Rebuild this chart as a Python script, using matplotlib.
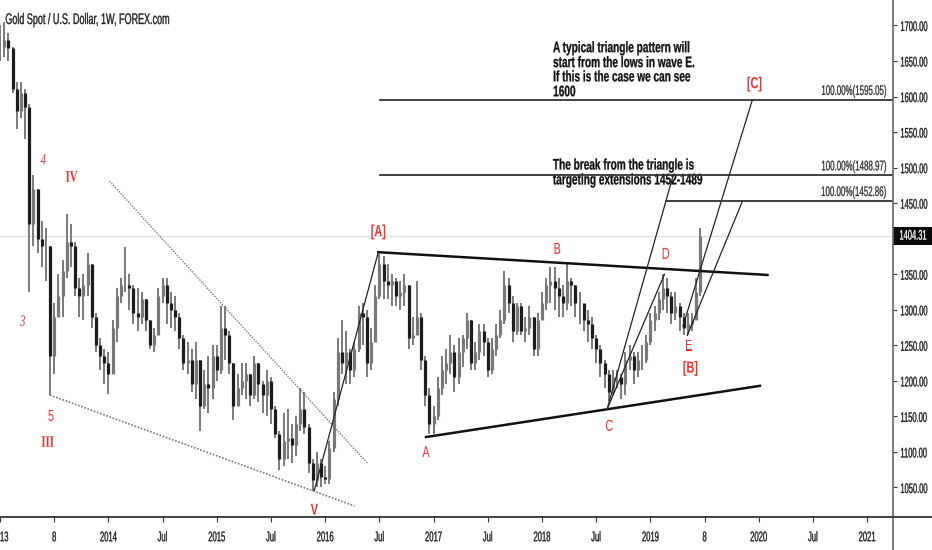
import numpy as np
import matplotlib
matplotlib.use('Agg')
import matplotlib.pyplot as plt
from matplotlib.lines import Line2D
from matplotlib.patches import Rectangle
from matplotlib.patheffects import AbstractPathEffect
from matplotlib.transforms import Affine2D, blended_transform_factory

WIDTH, HEIGHT = 932, 550
SANS = ['Liberation Sans', 'DejaVu Sans']
SERIF = ['Liberation Serif', 'DejaVu Serif']

# two-week bars
closes = [1670, 1680, 1668, 1610, 1580, 1605, 1585, 1420, 1470, 1400, 1390, 1390, 1235,
          1290, 1320, 1355, 1395, 1390, 1330, 1320, 1335, 1365, 1290, 1250, 1235, 1225,
          1210, 1275, 1320, 1335, 1335, 1330, 1295, 1290, 1315, 1285, 1250, 1265, 1320,
          1335, 1310, 1300, 1290, 1260, 1225, 1230, 1195, 1230, 1165, 1195, 1190, 1235,
          1215, 1275, 1265, 1225, 1165, 1190, 1200, 1210, 1180, 1225, 1195, 1180, 1200,
          1160, 1125, 1090, 1115, 1120, 1110, 1140, 1160, 1135, 1085, 1060, 1085, 1065,
          1062, 1105, 1175, 1240, 1225, 1240, 1215, 1245, 1295, 1290, 1225, 1255, 1320,
          1365, 1340, 1335, 1340, 1320, 1325, 1335, 1260, 1265, 1290, 1230, 1180, 1140,
          1150, 1190, 1215, 1225, 1240, 1205, 1240, 1260, 1285, 1225, 1240, 1270, 1255,
          1215, 1245, 1265, 1285, 1335, 1310, 1270, 1305, 1270, 1275, 1290, 1245, 1285,
          1310, 1335, 1340, 1330, 1320, 1310, 1340, 1335, 1310, 1310, 1285, 1280, 1260,
          1245, 1225, 1210, 1185, 1205, 1205, 1195, 1230, 1235, 1215, 1230, 1230, 1255,
          1285, 1295, 1315, 1330, 1320, 1295, 1305, 1290, 1275, 1280, 1285, 1325, 1404.31]
highs = [1700, 1705, 1690, 1670, 1620, 1620, 1610, 1590, 1490, 1470, 1425, 1415, 1390,
         1310, 1350, 1370, 1435, 1420, 1395, 1345, 1350, 1380, 1365, 1295, 1260, 1245,
         1240, 1285, 1330, 1345, 1388, 1350, 1335, 1330, 1325, 1315, 1285, 1275, 1330,
         1345, 1345, 1325, 1320, 1295, 1265, 1255, 1245, 1255, 1230, 1215, 1235, 1250,
         1250, 1305, 1305, 1270, 1225, 1210, 1225, 1225, 1210, 1235, 1225, 1200, 1215,
         1205, 1165, 1130, 1155, 1160, 1140, 1150, 1190, 1185, 1140, 1090, 1100, 1090,
         1080, 1115, 1185, 1260, 1285, 1270, 1245, 1255, 1305, 1310, 1300, 1275, 1335,
         1378, 1375, 1365, 1350, 1345, 1340, 1350, 1335, 1290, 1340, 1295, 1235, 1190,
         1165, 1205, 1235, 1245, 1265, 1250, 1260, 1265, 1295, 1285, 1255, 1280, 1280,
         1260, 1260, 1280, 1300, 1355, 1345, 1320, 1310, 1310, 1290, 1305, 1290, 1295,
         1325, 1345, 1360, 1360, 1345, 1335, 1365, 1345, 1335, 1325, 1305, 1300, 1290,
         1265, 1250, 1230, 1215, 1215, 1215, 1210, 1240, 1250, 1240, 1240, 1250, 1265,
         1295, 1305, 1325, 1350, 1345, 1325, 1325, 1310, 1295, 1295, 1295, 1345, 1415]
lows = [1650, 1655, 1650, 1605, 1555, 1570, 1540, 1325, 1390, 1380, 1360, 1340, 1180,
        1210, 1290, 1290, 1345, 1360, 1320, 1290, 1285, 1320, 1275, 1240, 1215, 1195,
        1182, 1225, 1255, 1310, 1325, 1300, 1280, 1270, 1280, 1270, 1245, 1240, 1265,
        1310, 1280, 1275, 1270, 1245, 1215, 1210, 1185, 1175, 1130, 1160, 1155, 1175,
        1200, 1210, 1230, 1210, 1145, 1165, 1180, 1175, 1165, 1175, 1170, 1155, 1150,
        1140, 1120, 1075, 1080, 1090, 1085, 1095, 1130, 1125, 1070, 1045, 1050, 1050,
        1055, 1055, 1100, 1165, 1210, 1195, 1195, 1205, 1240, 1250, 1205, 1215, 1270,
        1315, 1315, 1315, 1305, 1305, 1300, 1305, 1245, 1250, 1270, 1215, 1165, 1125,
        1125, 1145, 1180, 1195, 1210, 1185, 1195, 1220, 1245, 1215, 1215, 1230, 1235,
        1205, 1210, 1235, 1260, 1280, 1295, 1255, 1265, 1265, 1255, 1265, 1235, 1235,
        1290, 1300, 1310, 1300, 1290, 1290, 1300, 1305, 1290, 1280, 1270, 1255, 1245,
        1225, 1205, 1190, 1172, 1180, 1190, 1175, 1180, 1215, 1195, 1205, 1215, 1225,
        1250, 1270, 1285, 1300, 1295, 1280, 1285, 1270, 1265, 1265, 1270, 1285, 1320]

first_year = 2013.0
years_per_bar = 2 / 52

# drawn lines as (year, price) pairs
wedge_upper = ([2014.01, 2016.39], [1481, 1084])
wedge_lower = ([2013.46, 2016.27], [1180, 1024])
triangle_upper = ([2016.49, 2020.08], [1381, 1349])
triangle_lower = ([2016.93, 2020.01], [1121, 1193])
thin_lines = [
    ([2015.90, 2016.49], [1046, 1381]),
    ([2018.60, 2019.13], [1160, 1350]),
    ([2018.60, 2019.21], [1160, 1489]),
    ([2019.30, 2019.94], [1277, 1595]),
    ([2019.34, 2019.85], [1264, 1453]),
]
target_levels = [1595.05, 1488.97, 1452.86]
target_starts = [2016.505, 2016.505, 2019.14]
last_price = 1404.31

price_ticks = list(range(1050, 1701, 50))
time_ticks = [2013, 2013.5, 2014, 2014.5, 2015, 2015.5, 2016, 2016.5, 2017, 2017.5,
              2018, 2018.5, 2019, 2019.5, 2020, 2020.5, 2021]
time_labels = ['2013', '8', '2014', 'Jul', '2015', 'Jul', '2016', 'Jul', '2017', 'Jul',
               '2018', 'Jul', '2019', '8', '2020', 'Jul', '2021']

# wave labels: text, year, price, look
wave_labels = [
    ('4', 2013.40, 1510, 'italic'), ('3', 2013.21, 1283, 'italic'), ('5', 2013.47, 1150, 'normal'),
    ('IV', 2013.66, 1486, 'serif'), ('III', 2013.44, 1113, 'serif'), ('V', 2015.90, 1018, 'bold'),
    ('[A]', 2016.49, 1410, 'bold'), ('[B]', 2019.37, 1218, 'bold'), ('[C]', 2019.96, 1618, 'bold'),
    ('A', 2016.93, 1099, 'normal'), ('B', 2018.14, 1385, 'normal'), ('C', 2018.62, 1136, 'normal'),
    ('D', 2019.14, 1378, 'normal'), ('E', 2019.35, 1249, 'normal'),
]

note_top = ['A typical triangle pattern will', 'start from the lows in wave E.',
            'If this is the case we can see', '1600']
note_bottom = ['The break from the triangle is', 'targeting extensions 1452-1489']


class Squeeze(AbstractPathEffect):
    # the chart's text is condensed and no narrow font is installed
    def __init__(self, sx, anchor='left', stroke=0.0):
        super().__init__()
        self.sx = sx
        self.anchor = anchor
        self.stroke = stroke

    def draw_path(self, renderer, gc, tpath, affine, rgbFace=None):
        ext = tpath.get_extents()
        pivot = {'left': ext.x0, 'center': (ext.x0 + ext.x1) / 2, 'right': ext.x1}[self.anchor]
        squeezed = Affine2D().translate(-pivot, 0).scale(self.sx, 1).translate(pivot, 0) + affine
        gc.set_linewidth(self.stroke)
        renderer.draw_path(gc, tpath, squeezed, rgbFace)


if __name__ == "__main__":
    plt.rcParams['font.family'] = SANS

    fig = plt.figure(figsize=(WIDTH / 100, HEIGHT / 100), dpi=100)
    ax = fig.add_axes([0, 33 / HEIGHT, 893 / WIDTH, 517 / HEIGHT])

    bar_years = first_year + np.arange(len(closes)) * years_per_bar
    closes_arr = np.array(closes, dtype=float)
    opens_arr = np.concatenate([[closes_arr[0]], closes_arr[:-1]])
    falling = closes_arr < opens_arr

    ax.axhline(last_price, color='#e2e2e2', lw=1, zorder=1)
    ax.vlines(bar_years, lows, highs, color='#707070', lw=1.3, zorder=2)
    ax.vlines(bar_years[~falling], opens_arr[~falling], closes_arr[~falling], color='#787878', lw=2.3, zorder=3)
    ax.vlines(bar_years[falling], opens_arr[falling], closes_arr[falling], color='#1c1c1c', lw=2.3, zorder=3)

    ax.plot(*wedge_upper, color='#777777', lw=1.0, ls=(0, (1, 1)), zorder=4)
    ax.plot(*wedge_lower, color='#777777', lw=1.2, ls=(0, (1, 1)), zorder=4)
    ax.plot(*triangle_upper, color='#111111', lw=1.8, zorder=5)
    ax.plot(*triangle_lower, color='#111111', lw=1.8, zorder=5)
    for xs, ys in thin_lines:
        ax.plot(xs, ys, color='#222222', lw=0.9, zorder=5)

    ax.set_xlim(first_year, first_year + 893 / 108.4)
    ax.set_ylim(1008.5, 1735.8)
    for level, start in zip(target_levels, target_starts):
        ax.plot([start, ax.get_xlim()[1]], [level, level], color='#333333', lw=1.3, zorder=5)
        ax.text(2021.18, level + 3, f'100.00%({level:.2f})', ha='right', va='bottom', fontsize=10,
                color='#333333', path_effects=[Squeeze(0.57, 'right', 0.2)])

    for text, year, price, kind in wave_labels:
        style = 'italic' if kind == 'italic' else 'normal'
        weight = 'bold' if kind in ('serif', 'bold') else 'normal'
        family = SERIF if kind in ('serif', 'italic') else SANS
        ax.text(year, price, text, color='#f23030', ha='center', va='center', fontsize=11.5,
                fontstyle=style, fontweight=weight, family=family,
                path_effects=[Squeeze(0.68, 'center')])

    for line, price in zip(note_top, [1668, 1647, 1627, 1606]):
        ax.text(2018.10, price, line, ha='left', va='center', fontsize=11, fontweight='bold',
                color='#111111', path_effects=[Squeeze(0.66, 'left', 0.2)])
    for line, price in zip(note_bottom, [1503, 1482]):
        ax.text(2018.10, price, line, ha='left', va='center', fontsize=11, fontweight='bold',
                color='#111111', path_effects=[Squeeze(0.66, 'left', 0.2)])

    ax.text(5 / 893, 497 / 517, 'Gold Spot / U.S. Dollar, 1W, FOREX.com', transform=ax.transAxes,
            ha='left', va='center', fontsize=11, color='#222222', path_effects=[Squeeze(0.59, 'left', 0.25)])

    for side in ('top', 'left', 'right', 'bottom'):
        ax.spines[side].set_visible(False)

    ax.set_xticks(time_ticks)
    ax.set_xticklabels(time_labels)
    ax.set_yticks(price_ticks)
    ax.set_yticklabels([f'{p:.2f}' for p in price_ticks])
    ax.yaxis.tick_right()
    ax.tick_params(axis='x', length=3.5, width=0.8, color='#333333', labelsize=10, labelcolor='#222222', pad=6)
    ax.tick_params(axis='y', length=3, width=0.8, color='#333333', labelsize=10, labelcolor='#222222', pad=2)
    for label in ax.get_xticklabels():
        label.set_path_effects([Squeeze(0.55, 'center', 0.25)])
    for label in ax.get_yticklabels():
        label.set_path_effects([Squeeze(0.54, 'left', 0.25)])

    # axis rules run on to the image edges
    fig.add_artist(Line2D([893 / WIDTH, 893 / WIDTH], [0, 1], color='#666666', lw=1.2))
    fig.add_artist(Line2D([0, 1], [33 / HEIGHT, 33 / HEIGHT], color='#333333', lw=1.3))

    # last price tag
    tag_transform = blended_transform_factory(ax.transAxes, ax.transData)
    ax.add_patch(Rectangle((1, last_price - 12.7), 39 / 893, 25.4, transform=tag_transform,
                           fc='#0a0a0a', ec='none', clip_on=False, zorder=6))
    ax.text(1 + 6 / 893, last_price, f'{last_price:.2f}', transform=tag_transform, ha='left', va='center',
            fontsize=10, color='white', zorder=7, path_effects=[Squeeze(0.54, 'left', 0.2)])

    fig.savefig('out.png', dpi=100)
